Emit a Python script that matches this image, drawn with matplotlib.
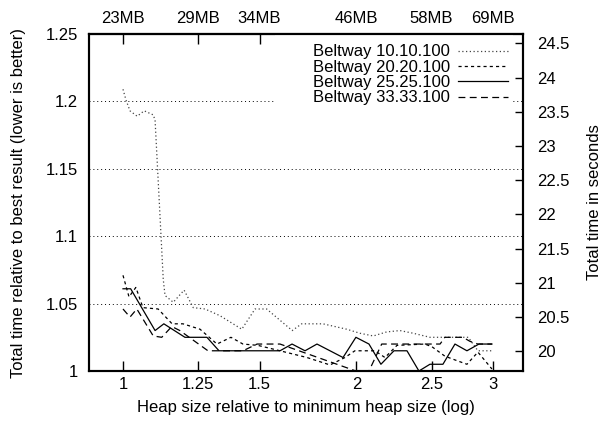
import matplotlib
matplotlib.use("Agg")
import matplotlib.pyplot as plt
from matplotlib.patches import Rectangle
from matplotlib.ticker import NullLocator, FixedLocator, FixedFormatter

plt.rcParams['font.family'] = ['Liberation Sans', 'DejaVu Sans']
plt.rcParams['font.size'] = 12

# ---- data (heap size relative to minimum, time relative to best) ----
x_10 = [1.0, 1.009, 1.021, 1.043, 1.065, 1.094, 1.100, 1.127, 1.133, 1.161, 1.199, 1.232,
        1.276, 1.334, 1.423, 1.480, 1.532, 1.653, 1.700, 1.811, 1.943, 2.021, 2.103,
        2.188, 2.276, 2.368, 2.488, 2.601, 2.788, 2.869, 2.988]
y_10 = [1.209, 1.201, 1.193, 1.189, 1.193, 1.190, 1.186, 1.068, 1.056, 1.051, 1.060, 1.047,
        1.046, 1.041, 1.031, 1.046, 1.046, 1.030, 1.035, 1.035, 1.031, 1.028, 1.026,
        1.029, 1.030, 1.028, 1.025, 1.025, 1.025, 1.015, 1.015]

x_20 = [1.0, 1.018, 1.039, 1.061, 1.110, 1.157, 1.195, 1.257, 1.322, 1.378, 1.428, 1.493,
        1.594, 1.727, 1.849, 1.933, 1.991, 2.113, 2.177, 2.256, 2.451, 2.503, 2.601,
        2.704, 2.777, 2.869, 2.991]
y_20 = [1.071, 1.055, 1.062, 1.047, 1.046, 1.035, 1.035, 1.031, 1.020, 1.025, 1.020, 1.019,
        1.015, 1.010, 1.0045, 1.010, 1.015, 1.015, 1.010, 1.019, 1.020, 1.018, 1.011,
        1.0074, 1.005, 1.014, 1.0015]

x_25 = [1.0, 1.023, 1.100, 1.129, 1.202, 1.283, 1.330, 1.594, 1.652, 1.717, 1.779, 1.922,
        1.997, 2.076, 2.151, 2.236, 2.324, 2.408, 2.488, 2.586, 2.680, 2.777, 2.878, 2.991]
y_25 = [1.061, 1.061, 1.030, 1.035, 1.025, 1.025, 1.015, 1.015, 1.020, 1.015, 1.020, 1.010,
        1.025, 1.020, 1.005, 1.015, 1.015, 1.000, 1.005, 1.005, 1.020, 1.015, 1.020, 1.020]

x_33 = [1.0, 1.021, 1.042, 1.094, 1.122, 1.156, 1.184, 1.287, 1.428, 1.489, 1.594, 1.997,
        2.076, 2.156, 2.564, 2.601, 2.744, 2.802, 2.869, 2.991]
y_33 = [1.046, 1.040, 1.046, 1.026, 1.025, 1.033, 1.030, 1.015, 1.015, 1.020, 1.020, 1.000,
        1.000, 1.020, 1.020, 1.025, 1.025, 1.022, 1.020, 1.020]

series_labels = ['Beltway 10.10.100', 'Beltway 20.20.100', 'Beltway 25.25.100', 'Beltway 33.33.100']

x_ticks = [1, 1.25, 1.5, 2, 2.5, 3]
x_tick_labels = ['1', '1.25', '1.5', '2', '2.5', '3']
top_tick_labels = ['23MB', '29MB', '34MB', '46MB', '58MB', '69MB']
y_ticks = [1, 1.05, 1.1, 1.15, 1.2, 1.25]
y_tick_labels = ['1', '1.05', '1.1', '1.15', '1.2', '1.25']
y2_ticks = [20, 20.5, 21, 21.5, 22, 22.5, 23, 23.5, 24, 24.5]
y2_tick_labels = ['20', '20.5', '21', '21.5', '22', '22.5', '23', '23.5', '24', '24.5']
best_time = 19.71  # seconds corresponding to ratio 1.0

# ---- figure ----
fig = plt.figure(figsize=(6.11, 4.29), dpi=100)
L, R, T, B = 89, 523, 34, 371
ax = fig.add_axes([L / 611, (429 - B) / 429, (R - L) / 611, (B - T) / 429])
ax.set_axisbelow(True)

ax.set_xscale('log')
ax.set_xlim(0.904, 3.28)
ax.set_ylim(1.0, 1.25)
ax.xaxis.set_major_locator(FixedLocator(x_ticks))
ax.xaxis.set_major_formatter(FixedFormatter(x_tick_labels))
ax.xaxis.set_minor_locator(NullLocator())
ax.set_yticks(y_ticks)
ax.set_yticklabels(y_tick_labels)

ax.tick_params(axis='x', which='both', direction='in', length=7, width=1, pad=4, top=False)
ax.tick_params(axis='y', direction='in', length=0, pad=8, right=False)

for s in ax.spines.values():
    s.set_linewidth(1.5)

# horizontal grid (dotted)
ax.yaxis.grid(True, color='black', linewidth=0.7, linestyle=(0, (1, 3)))
ax.xaxis.grid(False)

# opaque key area hiding the grid behind legend
ax.add_patch(Rectangle(((275 - L) / (R - L), (B - 106) / (B - T)),
                       (513 - 275) / (R - L), 1 - (B - 106) / (B - T),
                       transform=ax.transAxes, facecolor='white', edgecolor='none', zorder=1))

ax.plot(x_10, y_10, color='#444444', lw=0.9, linestyle=(0, (1, 2)), label=series_labels[0], zorder=2)
ax.plot(x_20, y_20, color='black', lw=0.9, linestyle=(0, (2.5, 2.5)), label=series_labels[1], zorder=2)
ax.plot(x_25, y_25, color='black', lw=0.9, linestyle='-', label=series_labels[2], zorder=2)
ax.plot(x_33, y_33, color='black', lw=0.9, linestyle=(0, (5.5, 3.5)), label=series_labels[3], zorder=2)

leg = ax.legend(loc='upper right', bbox_to_anchor=(1 - 12 / (R - L), 1 - 7 / (B - T)),
                frameon=False, markerfirst=False, handlelength=3.0, handletextpad=0.45,
                labelspacing=0.02, borderaxespad=0, borderpad=0.2, fontsize=12)

ax.set_xlabel('Heap size relative to minimum heap size (log)', labelpad=6)
ax.set_ylabel('Total time relative to best result (lower is better)', labelpad=14)

# top axis with heap sizes in MB
sec = ax.secondary_xaxis('top')
sec.xaxis.set_major_locator(FixedLocator(x_ticks))
sec.xaxis.set_major_formatter(FixedFormatter(top_tick_labels))
sec.xaxis.set_minor_locator(NullLocator())
sec.tick_params(axis='x', which='both', direction='in', length=7, width=1, pad=5.5)
sec.spines['top'].set_linewidth(1.5)

# right axis in seconds
ax2 = ax.twinx()
ax2.set_ylim(best_time * 1.0, best_time * 1.25)
ax2.set_yticks(y2_ticks)
ax2.set_yticklabels(y2_tick_labels)
ax2.tick_params(axis='y', direction='in', length=6, width=1, pad=10)
for s in ax2.spines.values():
    s.set_linewidth(1.5)
ax2.set_ylabel('Total time in seconds', labelpad=13)

fig.savefig('out.png', dpi=100)
